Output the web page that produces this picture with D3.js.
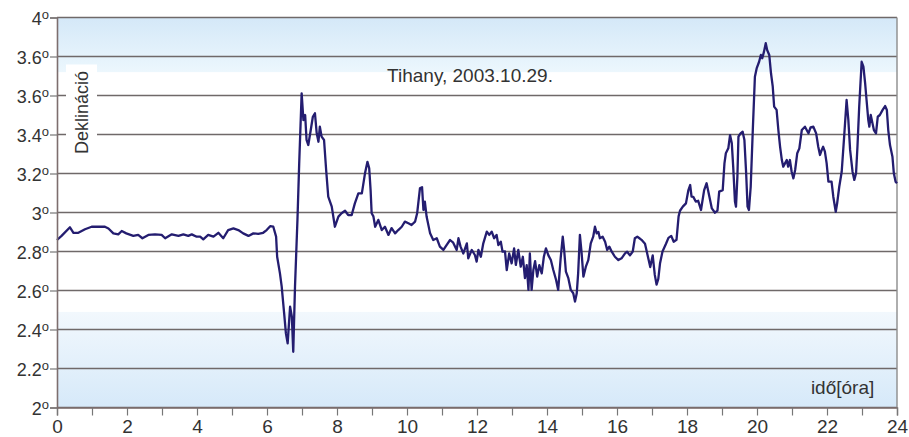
<!DOCTYPE html>
<html>
<head>
<meta charset="utf-8">
<script src="https://cdn.jsdelivr.net/npm/d3@7"></script>
<style>
  body { margin: 0; background: #fff; }
  text { font-family: "Liberation Sans", Arial, sans-serif; fill: #333; }
</style>
</head>
<body>
<div id="chart"></div>
<script>
// hours of the day and declination readings (degrees)
const hours = [
  0, 0.13, 0.37, 0.47, 0.61, 0.8, 0.99, 1.18, 1.37, 1.47, 1.61, 1.75, 1.85, 1.98, 2.18, 2.32, 2.44, 2.61, 2.8, 2.99,
  3.09, 3.28, 3.47, 3.61, 3.75, 3.85, 3.99,
  4.09, 4.18, 4.32, 4.47, 4.61, 4.75, 4.89, 5.04, 5.18, 5.32, 5.47, 5.61, 5.75, 5.89, 5.99, 6.09, 6.18, 6.26, 6.29,
  6.37, 6.42, 6.49, 6.54, 6.59, 6.66, 6.71, 6.75, 6.8, 6.87, 6.92, 6.99, 7.04, 7.09, 7.13, 7.18, 7.25, 7.31, 7.37,
  7.42, 7.47, 7.51, 7.56, 7.63, 7.69, 7.75, 7.85, 7.94,
  8.04, 8.13, 8.23, 8.32, 8.42, 8.51, 8.61, 8.71, 8.8, 8.87, 8.92, 8.96, 8.99, 9.04, 9.09, 9.18, 9.28, 9.37, 9.47,
  9.56, 9.66, 9.75, 9.85, 9.94, 10.04, 10.13, 10.23, 10.29, 10.37, 10.43, 10.47, 10.51, 10.56, 10.66, 10.75, 10.85,
  10.94, 11.04, 11.13, 11.23, 11.32, 11.42, 11.47, 11.53, 11.61, 11.71, 11.75, 11.85, 11.94, 11.99, 12.04,
  12.11, 12.18, 12.28, 12.35, 12.42, 12.49, 12.56, 12.61, 12.68, 12.73, 12.8, 12.85, 12.92, 12.99, 13.06, 13.11,
  13.18, 13.25, 13.31, 13.37, 13.42, 13.47, 13.51, 13.56, 13.61, 13.66, 13.72, 13.78, 13.85, 13.91, 13.97, 14.04,
  14.11, 14.18, 14.26, 14.32, 14.39, 14.45, 14.49, 14.54, 14.61, 14.68, 14.75, 14.8, 14.85, 14.89, 14.94, 14.99,
  15.04, 15.11, 15.18, 15.25, 15.32, 15.37, 15.42, 15.47, 15.51, 15.59, 15.66, 15.72, 15.78, 15.85, 15.94, 16.04,
  16.13, 16.23, 16.29, 16.37, 16.45, 16.51, 16.58, 16.64,
  16.7, 16.8, 16.9, 16.95, 17.02, 17.08, 17.13, 17.18, 17.23, 17.3, 17.4, 17.47, 17.55, 17.62, 17.7, 17.76,
  17.8, 17.88, 17.97, 18.04, 18.09, 18.13, 18.18, 18.25, 18.32, 18.4, 18.49, 18.56, 18.64, 18.71, 18.8, 18.87,
  18.92, 19.02, 19.07, 19.11, 19.18, 19.23, 19.28, 19.32, 19.37, 19.4, 19.44, 19.47, 19.53, 19.59, 19.64, 19.69,
  19.73, 19.77, 19.82, 19.88, 19.94, 19.99, 20.06, 20.11, 20.15, 20.2, 20.25, 20.29, 20.35, 20.4, 20.45, 20.49,
  20.56, 20.61, 20.66, 20.71, 20.75, 20.8, 20.85, 20.89, 20.94, 20.99, 21.04, 21.09, 21.15, 21.21, 21.28, 21.37,
  21.47, 21.53, 21.61, 21.69, 21.75, 21.8, 21.85, 21.89, 21.94, 21.99, 22.04, 22.13, 22.18, 22.25, 22.29, 22.35,
  22.42, 22.49, 22.56, 22.61, 22.66, 22.73, 22.78, 22.83, 22.87, 22.92, 22.99, 23.04, 23.09, 23.13, 23.18, 23.21,
  23.25, 23.3, 23.34, 23.4, 23.45, 23.51, 23.59, 23.66, 23.71, 23.75, 23.8, 23.87, 23.91, 23.96, 24
];
const decl = [
  2.859, 2.88, 2.924, 2.896, 2.896, 2.914, 2.927, 2.927, 2.927, 2.918, 2.893, 2.888, 2.905, 2.893, 2.88, 2.885, 2.868, 2.885, 2.888, 2.885,
  2.868, 2.888, 2.88, 2.888, 2.88, 2.888, 2.876,
  2.876, 2.862, 2.885, 2.876, 2.896, 2.868, 2.91, 2.919, 2.91, 2.893, 2.88, 2.893, 2.89, 2.896, 2.91, 2.93, 2.927, 2.876, 2.773,
  2.688, 2.62, 2.483, 2.38, 2.329, 2.517, 2.466, 2.286, 2.62, 2.962, 3.252, 3.611, 3.474, 3.5, 3.372, 3.346, 3.423, 3.491, 3.509,
  3.406, 3.363, 3.44, 3.389, 3.372, 3.218, 3.081, 3.03, 2.927,
  2.979, 2.996, 3.009, 2.987, 2.987, 3.047, 3.098, 3.098, 3.201, 3.26, 3.227, 3.115, 2.996, 2.98, 2.927, 2.962, 2.91, 2.927, 2.885,
  2.92, 2.893, 2.91, 2.927, 2.953, 2.945, 2.936, 2.953, 2.996, 3.124, 3.13, 3.013, 3.056, 2.979, 2.893, 2.859, 2.868,
  2.825, 2.808, 2.833, 2.859, 2.845, 2.808, 2.868, 2.825, 2.79, 2.842, 2.765, 2.808, 2.782, 2.748, 2.808,
  2.773, 2.842, 2.902, 2.885, 2.902, 2.868, 2.885, 2.833, 2.85, 2.799, 2.8, 2.705, 2.79, 2.739, 2.816, 2.731,
  2.808, 2.722, 2.773, 2.663, 2.73, 2.603, 2.79, 2.603, 2.705, 2.75, 2.671, 2.73, 2.688, 2.773, 2.816, 2.78,
  2.756, 2.705, 2.654, 2.603, 2.765, 2.876, 2.808, 2.697, 2.663, 2.603, 2.586, 2.543, 2.586, 2.688, 2.885, 2.79,
  2.671, 2.722, 2.756, 2.842, 2.876, 2.927, 2.893, 2.9, 2.868, 2.876, 2.85, 2.808, 2.825, 2.799, 2.773, 2.756,
  2.765, 2.79, 2.799, 2.78, 2.8, 2.868, 2.876, 2.868,
  2.86, 2.84, 2.76, 2.72, 2.78, 2.68, 2.63, 2.66, 2.74, 2.8, 2.84, 2.87, 2.88, 2.85, 2.86, 2.98,
  3.009, 3.03, 3.047, 3.115, 3.141, 3.081, 3.08, 3.056, 3.06, 3.013, 3.115, 3.15, 3.081, 3.021, 2.999, 3.01,
  3.107, 3.115, 3.252, 3.304, 3.329, 3.397, 3.355, 3.235, 3.056, 3.03, 3.184, 3.389, 3.406, 3.414, 3.372, 3.201,
  3.03, 3.013, 3.132, 3.423, 3.696, 3.739, 3.773, 3.808, 3.791, 3.825, 3.868, 3.833, 3.808, 3.714, 3.645, 3.543,
  3.526, 3.423, 3.337, 3.269, 3.235, 3.252, 3.269, 3.235, 3.269, 3.209, 3.175, 3.218, 3.304, 3.329, 3.423, 3.44,
  3.406, 3.437, 3.44, 3.406, 3.337, 3.295, 3.321, 3.337, 3.312, 3.252, 3.158, 3.158, 3.081, 3.004, 3.047, 3.132,
  3.209, 3.389, 3.577, 3.474, 3.321, 3.209, 3.167, 3.201, 3.337, 3.543, 3.773, 3.748, 3.662, 3.577, 3.474, 3.44,
  3.5, 3.457, 3.423, 3.406, 3.491, 3.5, 3.526, 3.546, 3.526, 3.423, 3.346, 3.286, 3.201, 3.158, 3.15
];
const yTicks = [2, 2.2, 2.4, 2.6, 2.8, 3, 3.2, 3.4, 3.6, 3.8, 4];
const yLabels = ["2", "2.2", "2.4", "2.6", "2.8", "3", "3.2", "3.4", "3.6", "3.6", "4"];
const xTicks = [0, 2, 4, 6, 8, 10, 12, 14, 16, 18, 20, 22, 24];

const width = 909, height = 437;
const margin = { top: 17.5, right: 12, bottom: 29.5, left: 57 };
const innerW = width - margin.left - margin.right;
const innerH = height - margin.top - margin.bottom;

const svg = d3.select("#chart").append("svg")
  .attr("width", width)
  .attr("height", height);

const x = d3.scaleLinear().domain([0, 24]).range([0, innerW]);
const y = d3.scaleLinear().domain([2, 4]).range([innerH, 0]);

const defs = svg.append("defs");
const gTop = defs.append("linearGradient").attr("id", "bgTop")
  .attr("x1", 0).attr("y1", 0).attr("x2", 0).attr("y2", 1);
gTop.append("stop").attr("offset", "0%").attr("stop-color", "#d4e8f8");
gTop.append("stop").attr("offset", "100%").attr("stop-color", "#ecf7fd");
const gBot = defs.append("linearGradient").attr("id", "bgBot")
  .attr("x1", 0).attr("y1", 0).attr("x2", 0).attr("y2", 1);
gBot.append("stop").attr("offset", "0%").attr("stop-color", "#f2f8fd");
gBot.append("stop").attr("offset", "100%").attr("stop-color", "#d6e9f9");

const g = svg.append("g")
  .attr("transform", `translate(${margin.left},${margin.top})`);

// shaded bands at top and bottom
g.append("rect")
  .attr("x", 0).attr("y", y(4))
  .attr("width", innerW).attr("height", y(3.72) - y(4))
  .attr("fill", "url(#bgTop)");
g.append("rect")
  .attr("x", 0).attr("y", y(2.49))
  .attr("width", innerW).attr("height", y(2) - y(2.49))
  .attr("fill", "url(#bgBot)");

// horizontal grid
g.append("g")
  .selectAll("line")
  .data(yTicks)
  .enter()
  .append("line")
  .attr("x1", 0).attr("x2", innerW)
  .attr("y1", d => y(d)).attr("y2", d => y(d))
  .attr("stroke", "#6f6969")
  .attr("stroke-width", 1.4);

// right border
g.append("line")
  .attr("x1", innerW).attr("x2", innerW)
  .attr("y1", 0).attr("y2", innerH)
  .attr("stroke", "#8c8c8c")
  .attr("stroke-width", 1.4);

// y label on a white box
g.append("rect")
  .attr("x", 9).attr("y", 47)
  .attr("width", 31).attr("height", 97)
  .attr("fill", "#fff");
g.append("text")
  .attr("transform", `translate(31,${95}) rotate(-90)`)
  .attr("text-anchor", "middle")
  .style("font-size", "18px")
  .text("Deklináció");

g.append("text")
  .attr("x", x(11.8))
  .attr("y", 64)
  .attr("text-anchor", "middle")
  .style("font-size", "19px")
  .text("Tihany, 2003.10.29.");

g.append("text")
  .attr("x", x(23.35))
  .attr("y", y(2.07))
  .attr("text-anchor", "end")
  .style("font-size", "19px")
  .text("idő[óra]");

const line = d3.line()
  .x((d, i) => x(hours[i]))
  .y(d => y(d));

g.append("path")
  .datum(decl)
  .attr("fill", "none")
  .attr("stroke", "#241d70")
  .attr("stroke-width", 2.3)
  .attr("stroke-linejoin", "round")
  .attr("d", line);

// axes
const xAxis = g.append("g")
  .attr("transform", `translate(0,${innerH})`)
  .call(d3.axisBottom(x).tickValues(d3.range(0, 25)).tickSize(8).tickPadding(4)
    .tickFormat(d => xTicks.includes(d) ? d : ""));
xAxis.select(".domain").attr("stroke", "#7d6e6e").attr("stroke-width", 1.4);
xAxis.selectAll(".tick line").attr("stroke", "#777").attr("stroke-width", 1.2);
xAxis.selectAll(".tick text").style("font-size", "19px").attr("fill", "#333");

const yAxis = g.append("g")
  .call(d3.axisLeft(y).tickValues(yTicks).tickSize(7).tickPadding(3).tickFormat(""));
yAxis.select(".domain").attr("stroke", "#7d6e6e").attr("stroke-width", 1.6);
yAxis.selectAll(".tick line").attr("stroke", "#777").attr("stroke-width", 1.2);
yAxis.selectAll(".tick").each(function (d, i) {
  const t = d3.select(this).append("text")
    .attr("x", -8)
    .attr("dy", "0.4em")
    .attr("text-anchor", "end")
    .attr("fill", "#333")
    .style("font-size", "18px");
  t.append("tspan").text(yLabels[i]);
  t.append("tspan").attr("dy", "-0.45em").style("font-size", "13px").text("o");
});
</script>
</body>
</html>
